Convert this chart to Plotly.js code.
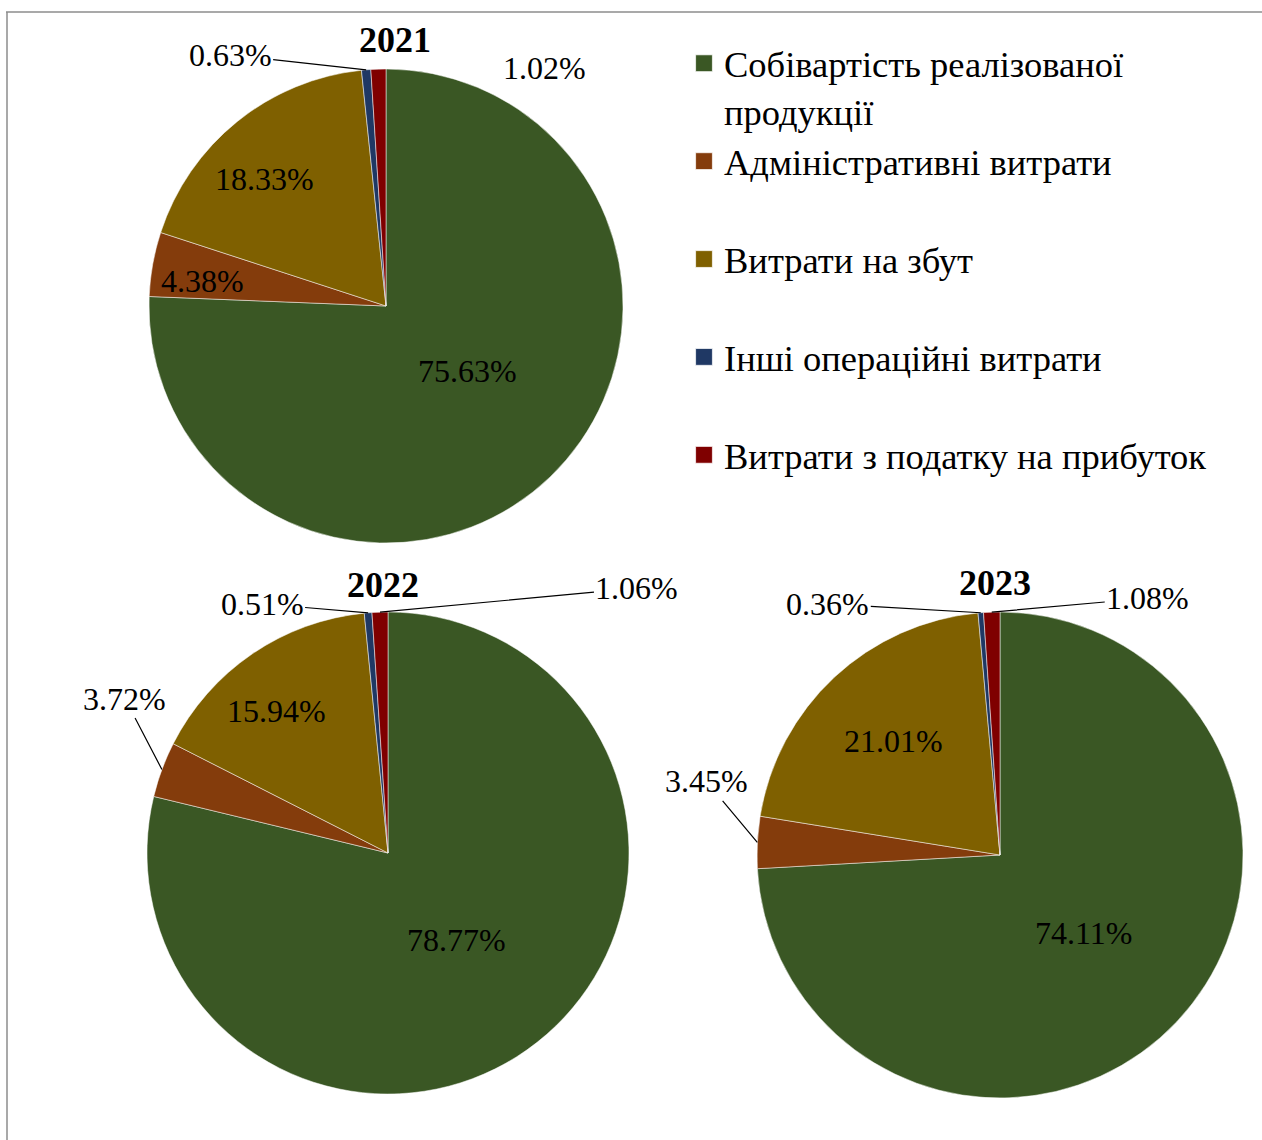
<!DOCTYPE html>
<html>
<head>
<meta charset="utf-8">
<script src="https://cdn.plot.ly/plotly-3.0.1.min.js"></script>
<style>html,body{margin:0;padding:0;background:#fff;}#chart{width:1262px;height:1140px;}</style>
</head>
<body>
<div id="chart"></div>
<script>
// ---- data ----
const years = ['2021', '2022', '2023'];
const categories = [
  'Собівартість реалізованої продукції',
  'Адміністративні витрати',
  'Витрати на збут',
  'Інші операційні витрати',
  'Витрати з податку на прибуток'
];
const values2021 = [75.63, 4.38, 18.33, 0.63, 1.02];
const values2022 = [78.77, 3.72, 15.94, 0.51, 1.06];
const values2023 = [74.11, 3.45, 21.01, 0.36, 1.08];
const colors = ['#3A5724', '#843C0C', '#7F6000', '#1F3864', '#7F0000'];

// ---- layout / style ----
const W = 1262, H = 1140;
const FONT = 'Liberation Serif, Times New Roman, serif';
const pieGeom = [
  {cx: 386, cy: 306, r: 237},
  {cx: 388, cy: 853, r: 241},
  {cx: 1000, cy: 855, r: 243}
];
// title offset from the pie's top point (px)
const titlePlace = [{dx: 9, dy: -29}, {dx: -5, dy: -27}, {dx: -5, dy: -29}];
// label placement per slice: rf = inside radial fraction (da = angle tweak, deg); dx/dy = outside offset in px
const labelPlace = [
  [{rf: 0.44, da: -7.7}, {rf: 0.78, da: -2.5}, {rf: 0.74, da: -4.8}, {dx: -136, dy: -15, line: true}, {dx: 166, dy: -1, line: false}],
  [{rf: 0.46, da: 0}, {dx: -37, dy: -71, line: true}, {rf: 0.75, da: -3.7}, {dx: -106, dy: -9, line: true}, {dx: 257, dy: -24, line: true}],
  [{rf: 0.47, da: 0}, {dx: -51, dy: -61, line: true}, {rf: 0.64, da: 0}, {dx: -153, dy: -9, line: true}, {dx: 156, dy: -14, line: true}]
];

const allValues = [values2021, values2022, values2023];
// legend labels: wrap the long name, pad others to two lines for spacing
const legendLabels = categories.map(c => {
  if (c.length > 30) {
    const i = c.lastIndexOf(' ');
    return c.slice(0, i) + '<br>' + c.slice(i + 1);
  }
  return c + '<br> ';
});

const px2x = p => p / W;
const px2y = p => 1 - p / H;

const traces = allValues.map((vals, k) => {
  const g = pieGeom[k];
  return {
    type: 'pie',
    name: years[k],
    labels: legendLabels,
    values: vals,
    sort: false,
    direction: 'clockwise',
    rotation: 0,
    textinfo: 'none',
    hoverinfo: 'label+percent',
    marker: {colors: colors, line: {color: '#ffffff', width: 0.5}},
    domain: {x: [px2x(g.cx - g.r), px2x(g.cx + g.r)], y: [px2y(g.cy + g.r), px2y(g.cy - g.r)]},
    showlegend: k === 0
  };
});

const annotations = [];
allValues.forEach((vals, k) => {
  const g = pieGeom[k];
  const tp = titlePlace[k];
  annotations.push({
    xref: 'paper', yref: 'paper',
    x: px2x(g.cx + tp.dx), y: px2y(g.cy - g.r + tp.dy),
    text: '<b>' + years[k] + '</b>', showarrow: false, xanchor: 'center', yanchor: 'middle',
    font: {family: FONT, size: 36, color: '#000'}
  });
  const total = vals.reduce((a, b) => a + b, 0);
  let cum = 0;
  vals.forEach((v, i) => {
    const th = 2 * Math.PI * (cum + v / 2) / total;
    cum += v;
    const p = labelPlace[k][i];
    const txt = v.toFixed(2) + '%';
    if (p.rf !== undefined) {
      const t2 = th + (p.da || 0) * Math.PI / 180;
      annotations.push({
        xref: 'paper', yref: 'paper',
        x: px2x(g.cx + p.rf * g.r * Math.sin(t2)), y: px2y(g.cy - p.rf * g.r * Math.cos(t2)),
        text: txt, showarrow: false, xanchor: 'center', yanchor: 'middle',
        font: {family: FONT, size: 32, color: '#000'}
      });
    } else {
      annotations.push({
        xref: 'paper', yref: 'paper',
        x: px2x(g.cx + g.r * Math.sin(th)), y: px2y(g.cy - g.r * Math.cos(th)),
        ax: p.dx, ay: p.dy,
        text: txt, showarrow: true, arrowhead: 0, arrowwidth: 1.2, standoff: 0,
        arrowcolor: p.line ? '#000' : 'rgba(0,0,0,0)',
        font: {family: FONT, size: 32, color: '#000'}
      });
    }
  });
});

const layout = {
  width: W, height: H,
  margin: {l: 0, r: 0, t: 0, b: 0},
  paper_bgcolor: '#ffffff',
  font: {family: FONT, color: '#000'},
  showlegend: true,
  legend: {
    x: px2x(684), y: px2y(33), xanchor: 'left', yanchor: 'top',
    valign: 'top', traceorder: 'normal',
    font: {family: FONT, size: 36.5, color: '#000'},
    bgcolor: 'rgba(0,0,0,0)'
  },
  annotations: annotations,
  shapes: [
    {type: 'line', xref: 'paper', yref: 'paper', x0: px2x(6), x1: 1, y0: px2y(12), y1: px2y(12), line: {color: '#8c8c8c', width: 1.5}},
    {type: 'line', xref: 'paper', yref: 'paper', x0: px2x(7), x1: px2x(7), y0: px2y(12), y1: 0, line: {color: '#8c8c8c', width: 1.5}}
  ]
};

Plotly.newPlot('chart', traces, layout, {displayModeBar: false, staticPlot: true}).then(gd => {
  // enlarge legend colour squares to match the reference's size (keep existing transform)
  gd.querySelectorAll('.legend .legendpoints path').forEach(p => {
    const t = p.getAttribute('transform') || '';
    p.setAttribute('transform', t + ' scale(1.4)');
  });
});
</script>
</body>
</html>
